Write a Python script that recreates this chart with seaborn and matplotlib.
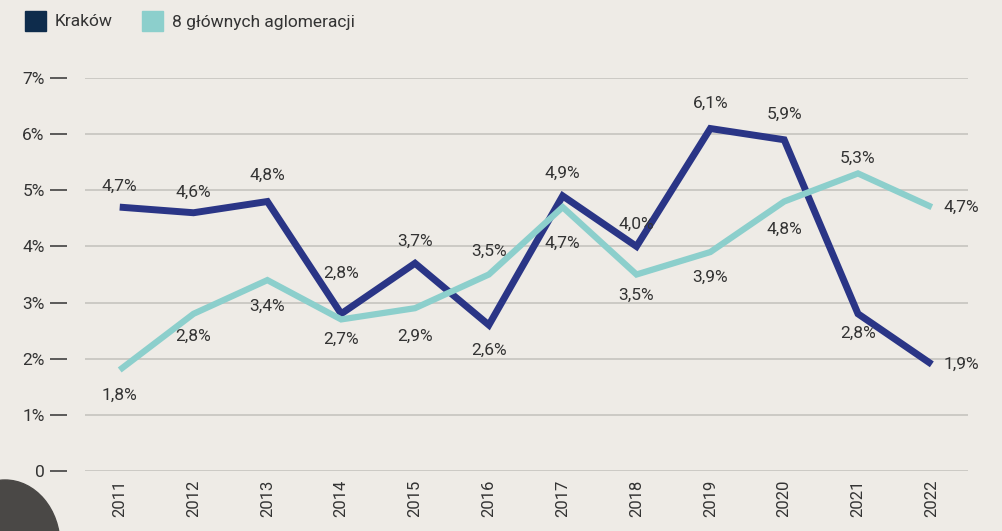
import matplotlib
matplotlib.use("Agg")
import matplotlib.pyplot as plt
from matplotlib.patches import Ellipse, Rectangle
import seaborn as sns
import pandas as pd

# values (percent)
years = list(range(2011, 2023))
krakow = [4.7, 4.6, 4.8, 2.8, 3.7, 2.6, 4.9, 4.0, 6.1, 5.9, 2.8, 1.9]
aglomeracje = [1.8, 2.8, 3.4, 2.7, 2.9, 3.5, 4.7, 3.5, 3.9, 4.8, 5.3, 4.7]
series_names = ["Kraków", "8 głównych aglomeracji"]
y_ticks = [0, 1, 2, 3, 4, 5, 6, 7]

# label offsets in points (dx, dy)
krakow_off = [(0, 15), (0, 15), (0, 19), (0, 29), (0, 16), (0, -18), (0, 16), (0, 16), (0, 18), (0, 18), (0, -14), (21, 0)]
aglo_off = [(0, -18), (0, -16), (0, -19), (0, -14), (0, -20), (0, 17), (0, -26), (0, -15), (0, -18), (0, -20), (0, 11), (21, 0)]

line_colors = ["#2A3586", "#8CCFCC"]
legend_colors = ["#0E2C4C", "#8CCFCC"]
bg = "#EEEBE6"
txt = "#333333"

df = pd.DataFrame({
    "rok": years * 2,
    "wartosc": krakow + aglomeracje,
    "seria": [series_names[0]] * len(years) + [series_names[1]] * len(years),
})

sns.set_style("white")
plt.rcParams["font.family"] = ["Roboto", "DejaVu Sans"]

fig = plt.figure(figsize=(10.03, 5.31), dpi=100, facecolor=bg)
ax = fig.add_axes([85 / 1003, 1 - 471 / 531, (968 - 85) / 1003, (471 - 78) / 531])
ax.set_facecolor(bg)

sns.lineplot(data=df, x="rok", y="wartosc", hue="seria", palette=line_colors,
             ax=ax, legend=False, linewidth=5, solid_joinstyle="miter",
             solid_capstyle="butt")
for ln in ax.lines:
    ln.set_clip_on(False)
    ln.set_zorder(3)
ax.lines[1].set_linewidth(4.5)

ax.set_xlim(2010.53, 2022.49)
ax.set_ylim(0, 7)
ax.set_yticks(y_ticks)
ax.set_yticklabels(["0"] + [f"{t}%" for t in y_ticks[1:]])
ax.set_xticks(years)
ax.set_xticklabels([str(y) for y in years], rotation=90)
ax.tick_params(axis="x", length=0, pad=6, labelsize=12, labelcolor=txt)
ax.tick_params(axis="y", left=True, length=12, width=1.1, color=txt, pad=4,
               labelsize=12.5, labelcolor=txt)
ax.grid(axis="y", color="#C2C0BC", linewidth=1.1)
ax.set_axisbelow(True)
for s in ["top", "right", "bottom"]:
    ax.spines[s].set_visible(False)
ax.spines["left"].set_position(("outward", 13))
ax.spines["left"].set_visible(False)
ax.set_xlabel("")
ax.set_ylabel("")

# data labels
for vals, offs in [(krakow, krakow_off), (aglomeracje, aglo_off)]:
    for x, v, (dx, dy) in zip(years, vals, offs):
        ax.annotate(f"{v:.1f}%".replace(".", ","), (x, v), xytext=(dx, dy),
                    textcoords="offset points", ha="center", va="center",
                    fontsize=12.5, color=txt, zorder=4, annotation_clip=False)

# legend
leg_x = [25, 142]
for i, name in enumerate(series_names):
    fig.patches.append(Rectangle((leg_x[i] / 1003, 1 - 31 / 531), 21 / 1003, 20 / 531,
                                 transform=fig.transFigure, color=legend_colors[i]))
    fig.text((leg_x[i] + 30) / 1003, 1 - 22 / 531, name, fontsize=12.5,
             color=txt, va="center", ha="left")

# dark blot at bottom-left corner
fig.patches.append(Ellipse((5 / 1003, 1 - 545 / 531), 110 / 1003, 130 / 531,
                           transform=fig.transFigure, color="#4A4846"))

fig.savefig("out.png", dpi=100, facecolor=bg)
